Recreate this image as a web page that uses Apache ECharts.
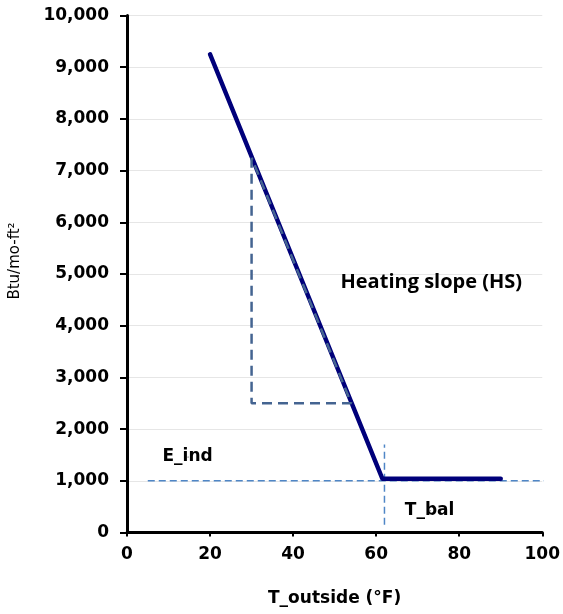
<!DOCTYPE html>
<html>
<head>
<meta charset="utf-8">
<script src="https://cdn.jsdelivr.net/npm/echarts@6/dist/echarts.min.js"></script>
<style>
  html, body { margin: 0; padding: 0; background: #fff; }
  #chart { width: 563px; height: 614px; }
</style>
</head>
<body>
<div id="chart"></div>
<script>
// energy use vs outside temperature (heating slope + balance point)
var mainLine = [[20, 9250], [61.5, 1040], [90, 1040]];
var slopeTriangle = [[30, 7250], [30, 2500], [54, 2500], [30, 7250]];
var baseLoadLine = [[5, 1000], [103, 1000]];
var balanceLine = [[62, 150], [62, 1700]];

var noteText = ['Heating slope (HS)', 'E_ind', 'T_bal'];
var noteX = [73.4, 14.7, 73];
var noteY = [4830, 1460, 420];
var noteFont = ['Open Sans', 'DejaVu Sans', 'DejaVu Sans'];
var noteSize = [20, 17, 17];

window.onload = function () {
    var myChart = echarts.init(document.getElementById('chart'));

    var notes = noteText.map(function (t, i) {
        return {
            value: [noteX[i], noteY[i]],
            name: t,
            label: {
                fontFamily: noteFont[i],
                fontSize: noteSize[i]
            }
        };
    });

    var option = {
        animation: false,
        grid: { left: 125, right: 20, top: 15.5, bottom: 81.5 },
        xAxis: {
            type: 'value',
            min: 0,
            max: 100,
            interval: 20,
            name: 'T_outside (°F)',
            nameLocation: 'middle',
            nameGap: 58,
            nameTextStyle: { fontFamily: 'DejaVu Sans', fontWeight: 'bold', fontSize: 17, color: '#000' },
            axisLine: { lineStyle: { color: '#000', width: 3 } },
            axisTick: { show: true, length: 4, lineStyle: { color: '#000', width: 2 } },
            axisLabel: { fontFamily: 'DejaVu Sans', fontWeight: 'bold', fontSize: 17, color: '#000', margin: 14 },
            splitLine: { show: false }
        },
        yAxis: {
            type: 'value',
            min: 0,
            max: 10000,
            interval: 1000,
            name: 'Btu/mo-ft²',
            nameLocation: 'middle',
            nameGap: 104,
            nameTextStyle: { fontFamily: 'DejaVu Sans', fontSize: 15, color: '#000', padding: [0, 0, 0, 26] },
            axisLine: { show: true, lineStyle: { color: '#000', width: 3 } },
            axisTick: { show: true, length: 7, lineStyle: { color: '#000', width: 2 } },
            axisLabel: {
                fontFamily: 'DejaVu Sans', fontWeight: 'bold', fontSize: 17, color: '#000', margin: 18,
                formatter: function (v) { return v.toLocaleString('en-US'); }
            },
            splitLine: { show: true, lineStyle: { color: '#e6e6e6', width: 1 } }
        },
        series: [
            {
                type: 'line',
                data: baseLoadLine,
                clip: false,
                symbol: 'none',
                lineStyle: { color: '#4f86c6', width: 1.5, type: [7, 4] },
                z: 1
            },
            {
                type: 'line',
                data: balanceLine,
                symbol: 'none',
                lineStyle: { color: '#4f86c6', width: 1.5, type: [7, 4] },
                z: 1
            },
            {
                type: 'line',
                data: mainLine,
                symbol: 'none',
                lineStyle: { color: '#00007a', width: 4.5, cap: 'round', join: 'round' },
                z: 2
            },
            {
                type: 'line',
                data: slopeTriangle,
                symbol: 'none',
                lineStyle: { color: '#446491', width: 2.5, type: [10, 6] },
                z: 3
            },
            {
                type: 'scatter',
                data: notes,
                symbolSize: 1,
                itemStyle: { color: '#000', opacity: 1 },
                silent: true,
                label: {
                    show: true,
                    position: [0, 0],
                    align: 'center',
                    verticalAlign: 'middle',
                    formatter: '{b}',
                    color: '#000',
                    fontWeight: 'bold'
                },
                z: 4
            }
        ]
    };

    myChart.setOption(option);
};
</script>
</body>
</html>
